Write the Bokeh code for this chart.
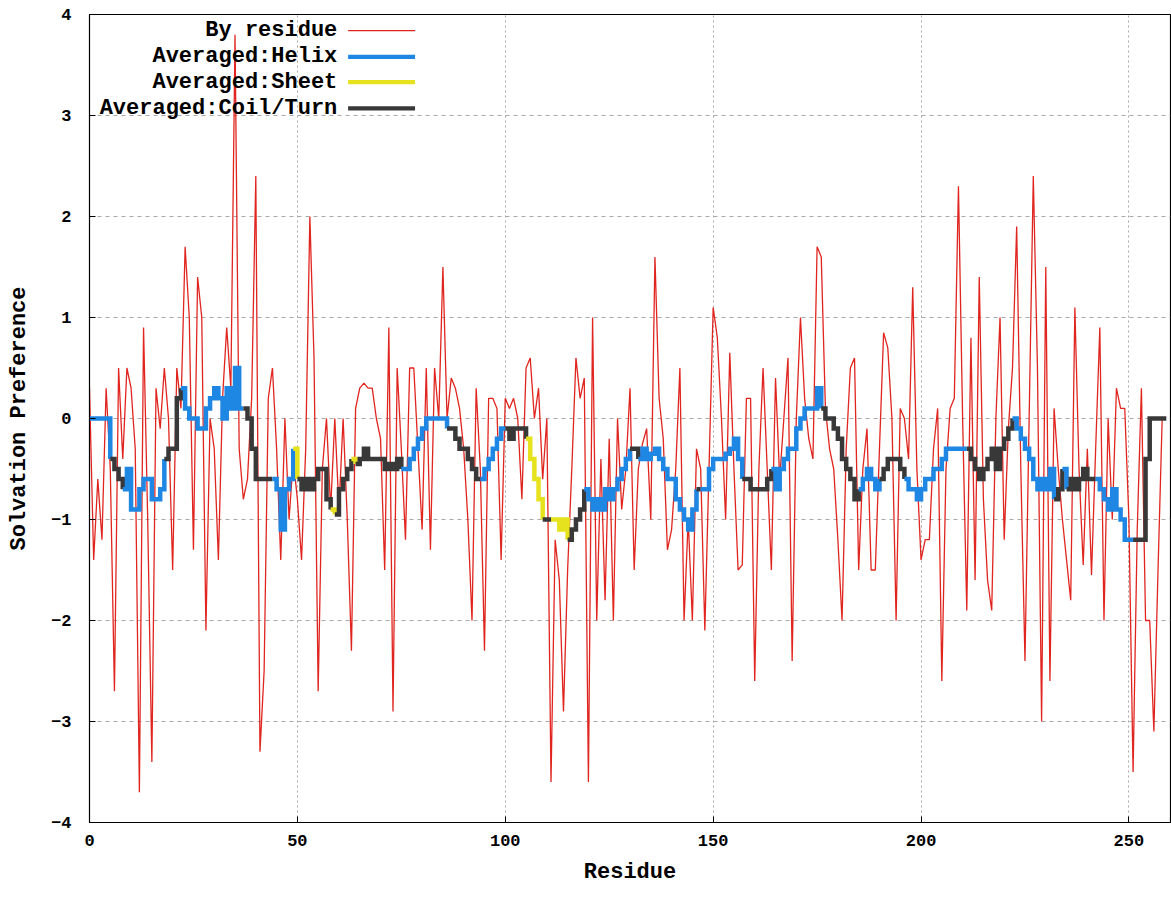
from bokeh.plotting import figure
from bokeh.models import Label, BoxAnnotation, FixedTicker, Range1d
from bokeh.embed import file_html
from bokeh.resources import INLINE

# ---------------- data ----------------
by_residue = [
    0.3, -1.4, -0.6, -1.2, 0.3, -0.5, -2.7, 0.5, -0.4, 0.5,
    0.3, -0.3, -3.7, 0.9, -1.0, -3.4, 0.3, -0.1, 0.5, 0.0,
    -1.5, 0.5, 0.1, 1.7, 1.0, -1.3, 1.4, 1.0, -2.1, 0.0,
    -0.3, -1.4, 0.2, 0.9, 0.3, 3.8, -0.3, -0.8, -0.6, 0.2,
    2.4, -3.3, -2.5, 0.2, 0.5, -0.3, -1.4, 0.0, -1.0, -0.4,
    -0.8, -1.4, -0.3, 2.0, 0.6, -2.7, -0.5, 0.0, -0.9, 0.0,
    -0.9, 0.0, -1.0, -2.3, 0.1, 0.3, 0.35, 0.3, 0.3, 0.0,
    -0.2, -1.5, 0.9, -2.9, 0.5, -0.3, -1.2, 0.5, 0.5, -0.3,
    -1.1, 0.5, -1.3, 0.5, 0.0, 1.5, 0.0, 0.4, 0.3, 0.1,
    -0.3, -1.0, -2.0, 0.3, -0.5, -2.3, 0.2, 0.2, 0.1, -1.4,
    0.2, 0.1, 0.2, 0.0, -0.8, 0.5, 0.6, 0.0, 0.3, -0.6,
    0.0, -3.6, -1.2, -1.6, -2.9, -1.5, -0.5, 0.6, 0.2, 0.4,
    -3.6, 1.0, -2.0, -0.4, -1.8, -0.2, -2.0, 0.0, -0.9, -0.5,
    0.3, -1.5, -0.5, -0.25, -0.1, -1.0, 1.6, 0.2, -0.2, -1.3,
    -1.1, -0.5, 0.5, -2.0, -1.0, -2.0, -0.3, -0.5, -2.1, -0.5,
    1.1, 0.8, 0.0, -1.0, 0.65, -0.5, -1.5, -1.45, 0.2, 0.2,
    -2.6, -0.5, 0.5, -0.5, -1.5, 0.4, -0.6, 0.0, 0.6, -2.4,
    0.0, 1.0, 0.2, -0.2, -0.4, 1.7, 1.6, 0.1, -0.3, -0.5,
    -1.2, -2.0, -0.3, 0.5, 0.6, -1.5, -0.5, -0.1, -1.5, -1.5,
    -0.3, 0.85, 0.7, 0.0, -2.0, 0.1, 0.0, -0.4, 1.3, -0.5,
    -1.4, -1.2, -1.2, -0.3, 0.1, -2.6, -0.5, 0.1, 0.2, 2.3,
    0.0, -1.9, 0.8, -1.6, 1.4, -0.8, -1.6, -1.9, 0.0, 1.0,
    -1.2, -0.1, 0.5, 1.9, -0.5, -2.4, 0.0, 2.4, 0.5, -3.0,
    1.5, -2.6, 0.1, -0.5, -1.0, -1.4, -1.8, 1.1, -0.5, -1.45,
    -0.3, -1.55, -0.3, 0.9, -2.0, 0.0, -1.0, 0.3, 0.1, 0.1,
    -1.0, -3.5, -1.1, 0.3, -2.0, -2.0, -3.1, -1.5, 0.0,
]

averaged = [
    0, 0, 0, 0, 0, -0.4, -0.5, -0.6, -0.7, -0.5,
    -0.9, -0.9, -0.7, -0.6, -0.6, -0.8, -0.8, -0.7, -0.4, -0.3,
    -0.3, 0.2, 0.3, 0.1, 0.0, 0.0, -0.1, -0.1, 0.1, 0.2,
    0.3, 0.2, 0.0, 0.3, 0.1, 0.5, 0.1, 0.1, 0.0, -0.3,
    -0.6, -0.6, -0.6, -0.6, -0.6, -0.7, -1.1, -0.7, -0.6, -0.3,
    -0.6, -0.7, -0.6, -0.7, -0.6, -0.5, -0.5, -0.8, -0.9, -0.95,
    -0.7, -0.6, -0.5, -0.4, -0.45, -0.4, -0.3, -0.4, -0.4, -0.4,
    -0.4, -0.5, -0.45, -0.5, -0.4, -0.5, -0.5, -0.4, -0.3, -0.2,
    -0.1, 0.0, 0.0, 0.0, 0.0, 0.0, -0.1, -0.1, -0.2, -0.3,
    -0.3, -0.4, -0.5, -0.6, -0.6, -0.5, -0.4, -0.3, -0.2, -0.1,
    -0.1, -0.2, -0.1, -0.1, -0.1, -0.2, -0.4, -0.6, -0.8, -1.0,
    -1.0, -1.0, -1.0, -1.1, -1.0, -1.2, -1.1, -1.0, -0.9, -0.7,
    -0.8, -0.9, -0.8, -0.9, -0.7, -0.8, -0.7, -0.6, -0.5, -0.4,
    -0.3, -0.3, -0.4, -0.3, -0.4, -0.35, -0.3, -0.4, -0.5, -0.6,
    -0.6, -0.8, -0.9, -1.0, -1.1, -0.9, -0.7, -0.7, -0.7, -0.5,
    -0.4, -0.4, -0.4, -0.35, -0.3, -0.2, -0.4, -0.6, -0.6, -0.7,
    -0.7, -0.7, -0.7, -0.6, -0.5, -0.7, -0.5, -0.4, -0.3, -0.3,
    -0.1, 0.0, 0.1, 0.1, 0.1, 0.3, 0.1, 0.0, 0.0, -0.1,
    -0.2, -0.4, -0.5, -0.6, -0.8, -0.7, -0.6, -0.5, -0.6, -0.7,
    -0.6, -0.5, -0.4, -0.4, -0.4, -0.5, -0.6, -0.7, -0.7, -0.8,
    -0.7, -0.6, -0.6, -0.5, -0.5, -0.4, -0.3, -0.3, -0.3, -0.3,
    -0.3, -0.3, -0.4, -0.5, -0.6, -0.5, -0.4, -0.3, -0.5, -0.3,
    -0.2, -0.1, 0.0, -0.1, -0.2, -0.3, -0.4, -0.6, -0.7, -0.6,
    -0.7, -0.5, -0.8, -0.7, -0.5, -0.7, -0.6, -0.7, -0.6, -0.5,
    -0.6, -0.6, -0.6, -0.7, -0.8, -0.9, -0.7, -0.9, -1.0, -1.2,
    -1.2, -1.2, -1.2, -1.2, -0.4, 0.0, 0.0, 0.0, 0.0, 0.0,
]

# secondary structure runs (H helix, E sheet, C coil/turn)
ss_runs = [
    ("H", 5), ("C", 3), ("H", 10), ("C", 4), ("H", 15), ("C", 7), ("H", 5),
    ("E", 1), ("C", 8), ("E", 1), ("C", 4), ("E", 1), ("C", 11), ("H", 11),
    ("C", 8), ("H", 6), ("C", 5), ("E", 4), ("C", 2), ("E", 4), ("C", 4),
    ("H", 11), ("C", 2), ("H", 14), ("C", 1), ("H", 10), ("C", 7), ("H", 12),
    ("C", 9), ("H", 5), ("C", 6), ("H", 15), ("C", 11), ("H", 10), ("C", 2),
    ("H", 1), ("C", 7), ("H", 9), ("C", 9),
]

x_ticks = [0, 50, 100, 150, 200, 250]
y_ticks = [-4, -3, -2, -1, 0, 1, 2, 3, 4]

legend_labels = ["By residue", "Averaged:Helix", "Averaged:Sheet", "Averaged:Coil/Turn"]

# ---------------- styles ----------------
RED = "#e0251f"
BLUE = "#1e86e3"
YELLOW = "#e6e21e"
DARK = "#383838"
ss_color = {"H": BLUE, "E": YELLOW, "C": DARK}
FONT = "Liberation Mono"

p = figure(width=1171, height=899,
           x_range=Range1d(0, 260), y_range=Range1d(-4, 4),
           output_backend="svg", toolbar_location=None,
           min_border_left=89, min_border_right=1,
           min_border_top=14, min_border_bottom=77)

p.background_fill_color = "white"
p.border_fill_color = "white"
p.outline_line_color = "black"
p.outline_line_width = 1.2

residues = list(range(len(by_residue)))
p.line(residues, by_residue, line_color=RED, line_width=1.3)

# averaged, coloured by secondary structure (drawn as steps)
ss = "".join(c * n for c, n in ss_runs)
avg_x = list(range(len(averaged)))
start = 0
while start < len(averaged):
    end = start
    while end + 1 < len(averaged) and ss[end + 1] == ss[start]:
        end += 1
    stop = min(end + 1, len(averaged) - 1)
    xs = avg_x[start:stop + 1]
    ys = averaged[start:stop + 1]
    p.step(xs, ys, mode="after", line_color=ss_color[ss[start]],
           line_width=4.5, line_join="miter")
    start = end + 1

# axes
p.xaxis.ticker = FixedTicker(ticks=x_ticks)
p.yaxis.ticker = FixedTicker(ticks=y_ticks)
for ax in (p.xaxis, p.yaxis):
    ax.major_tick_in = 6
    ax.major_tick_out = 0
    ax.minor_tick_in = 0
    ax.minor_tick_out = 0
    ax.axis_line_color = "black"
    ax.major_tick_line_color = "black"
    ax.major_label_text_font = FONT
    ax.major_label_text_font_style = "bold"
    ax.major_label_text_font_size = "17px"
    ax.major_label_text_color = "black"
    ax.axis_label_text_font = FONT
    ax.axis_label_text_font_style = "bold"
    ax.axis_label_text_font_size = "22px"
    ax.axis_label_text_color = "black"
p.xaxis.axis_label = "Residue"
p.yaxis.axis_label = "Solvation Preference"
p.xaxis.major_label_standoff = 12
p.yaxis.major_label_standoff = 18
p.xaxis.axis_label_standoff = 11
p.yaxis.axis_label_standoff = 16

p.xgrid.grid_line_color = "#a8a8a8"
p.xgrid.grid_line_dash = "2 3"
p.ygrid.grid_line_color = "#a8a8a8"
p.ygrid.grid_line_dash = "4 4"

# key (gnuplot style: text right-aligned, sample to the right)
key_colors = [RED, BLUE, YELLOW, DARK]
key_thick = [0.012, 0.042, 0.042, 0.042]
key_rows = [3.84, 3.58, 3.33, 3.07]
for lab, col, th, yy in zip(legend_labels, key_colors, key_thick, key_rows):
    p.add_layout(Label(x=59.6, y=yy, text=lab, text_align="right",
                       text_baseline="middle", text_font=FONT,
                       text_font_style="bold", text_font_size="22px",
                       text_color="black"))
    p.add_layout(BoxAnnotation(left=62.2, right=78.3, bottom=yy - th / 2,
                               top=yy + th / 2, fill_color=col, fill_alpha=1.0,
                               line_color=None))

open("out.html", "w").write(file_html(p, INLINE))
